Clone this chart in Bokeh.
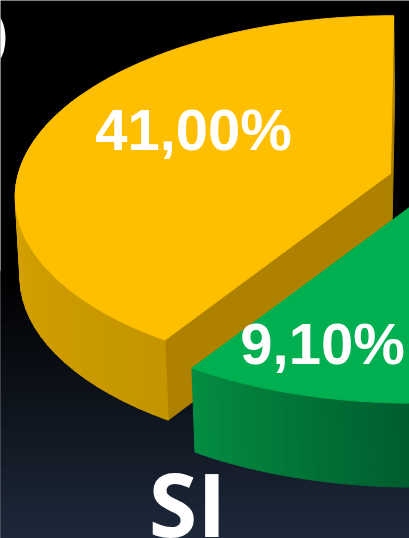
import numpy as np
from bokeh.plotting import figure
from bokeh.models import Range1d
from bokeh.embed import file_html
from bokeh.resources import INLINE
from bokeh.core.properties import value

# ---- data ----
categories = ["NO", "SI"]
slice_names = ["Amarillo", "Verde"]
slice_shares = [41.00, 9.10]
slice_labels = ["41,00%", "9,10%"]

W, H = 409, 538
p = figure(width=W, height=H, output_backend="svg", toolbar_location=None,
           x_range=Range1d(0, W), y_range=Range1d(H, 0), min_border=0,
           outline_line_color=None, border_fill_color="black",
           background_fill_color="black")
p.axis.visible = False
p.grid.visible = False
p.styles = {"position": "absolute", "left": "0px", "top": "0px"}

# background gradient
rows = np.arange(270, H, 2)
t = (rows - 270) / (H - 270)
cols = ["#%02x%02x%02x" % (int(30 * f), int(41 * f), int(59 * f)) for f in t]
p.quad(left=-2, right=W + 2, top=rows, bottom=rows + 2.5, fill_color=cols, line_color=None)

# perspective projection of the pie plane onto the screen
TILT, RX, RY, SKEW = 0.122, 372, 177, 0.02


def proj(deg, r, cx, cy, kx=1.0):
    a = np.radians(deg)
    u, w = -np.sin(a) * r, -np.cos(a) * r
    d = 1 - TILT * w
    dy = RY * w / d
    return cx + kx * RX * u / d - SKEW * dy, cy + dy


def mix(c0, c1, f):
    return "#%02x%02x%02x" % tuple(int(round(a + (b - a) * f)) for a, b in zip(c0, c1))


def draw_slice(start, sweep, cx, cy, bx, by, kx, top, cut, side0, side1, wall_from, faces):
    end = start + sweep
    for edge in faces:
        ang = start if edge == "start" else end
        xa, ya = proj(ang, 1, cx, cy)
        xb, yb = proj(ang, 1, bx, by, kx)
        p.patch([xa, cx, bx, xb], [ya, cy, by, yb], color=cut, line_color=cut)
    # curved outer wall, drawn as shaded strips
    angs = np.linspace(start + wall_from * sweep, end, 31)
    for i in range(len(angs) - 1):
        aa = np.linspace(angs[i], min(angs[i + 1] + 0.3, end), 5)
        xt, yt = proj(aa, 1, cx, cy)
        xl, yl = proj(aa, 1, bx, by, kx)
        col = mix(side0, side1, i / (len(angs) - 2))
        p.patch(list(xt) + list(xl[::-1]), list(yt) + list(yl[::-1]), color=col, line_color=col, line_width=1)
    # top face
    angs = np.linspace(start, end, 160)
    xt, yt = proj(angs, 1, cx, cy)
    p.patch([cx] + list(xt), [cy] + list(yt), color=top, line_color=top)


s0 = slice_shares[0] / 100 * 360
s1 = slice_shares[1] / 100 * 360
draw_slice(0.0, s0, 390, 173, 391, 253, 0.99, "#fdbf00", "#ae8200", (226, 171, 0), (197, 149, 0), 0.42, ["start", "end"])
draw_slice(s0, s1, 417, 201, 420, 285, 1.0, "#00b050", "#00703a", (4, 140, 66), (0, 92, 46), 0.0, [])

# labels
p.text(x=[193, 322], y=[129, 343], text=slice_labels, text_font=value("Arial"), text_font_size="58px",
       text_font_style="bold", text_color="white", text_align="center", text_baseline="middle")
p.text(x=[187, 10], y=[502, 35], text=[categories[1], categories[0]], text_font=value("Open Sans"),
       text_font_size="88px", text_font_style="bold", text_color="white",
       text_align=["center", "right"], text_baseline="middle")

html = file_html(p, INLINE)
open("out.html", "w").write(html)
